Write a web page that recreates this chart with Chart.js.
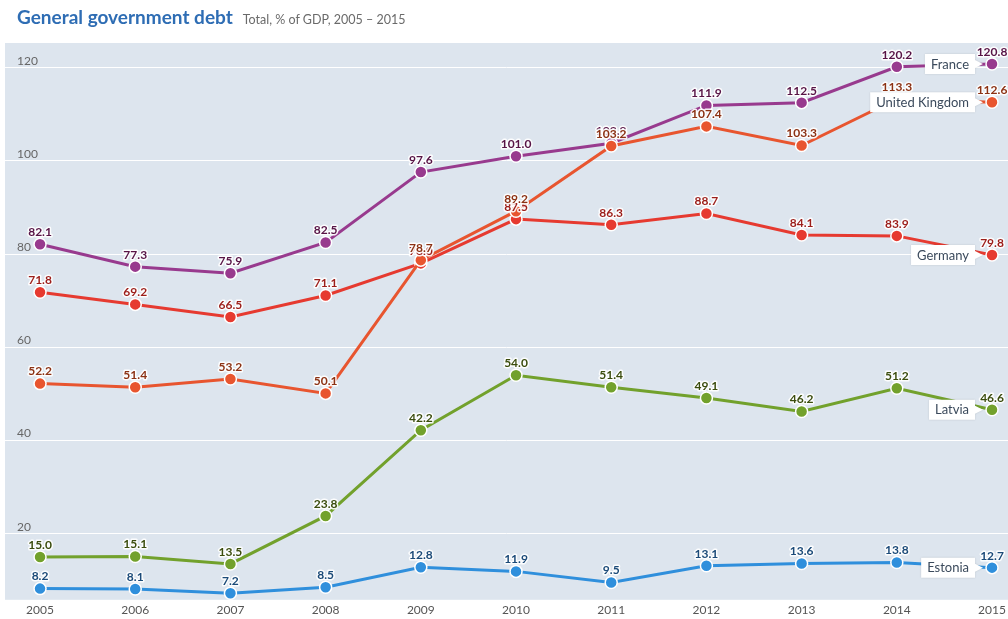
<!DOCTYPE html>
<html>
<head>
<meta charset="utf-8">
<script src="https://cdn.jsdelivr.net/npm/chart.js@4.4.1/dist/chart.umd.min.js"></script>
<style>
  html, body { margin: 0; padding: 0; background: #fff; }
  #wrap { position: relative; width: 1008px; height: 619px; }
  #title { position: absolute; left: 17px; top: 5px; font-family: Lato, sans-serif; white-space: nowrap; }
  #title b { font-size: 19px; color: #2e6db4; }
  #title span { font-size: 12.5px; color: #6a6a6a; margin-left: 10px; }
  canvas { position: absolute; left: 0; top: 0; }
</style>
</head>
<body>
<div id="wrap">
  <canvas id="debtChart" width="1008" height="619"></canvas>
  <div id="title"><b>General government debt</b><span>Total, % of GDP, 2005 – 2015</span></div>
</div>
<script>
const years = [2005, 2006, 2007, 2008, 2009, 2010, 2011, 2012, 2013, 2014, 2015];
const yTicks = [20, 40, 60, 80, 100, 120];

const ukValues      = [52.2, 51.4, 53.2, 50.1, 78.7, 89.2, 103.2, 107.4, 103.3, 113.3, 112.6];
const franceValues  = [82.1, 77.3, 75.9, 82.5, 97.6, 101.0, 103.8, 111.9, 112.5, 120.2, 120.8];
const germanyValues = [71.8, 69.2, 66.5, 71.1, 78.0, 87.5, 86.3, 88.7, 84.1, 83.9, 79.8];
const latviaValues  = [15.0, 15.1, 13.5, 23.8, 42.2, 54.0, 51.4, 49.1, 46.2, 51.2, 46.6];
const estoniaValues = [8.2, 8.1, 7.2, 8.5, 12.8, 11.9, 9.5, 13.1, 13.6, 13.8, 12.7];

// dataset 0 is drawn on top
const series = [
  { name: 'United Kingdom', values: ukValues,      color: '#e8552f', labelColor: '#8c3214' },
  { name: 'France',         values: franceValues,  color: '#983a8e', labelColor: '#571446' },
  { name: 'Germany',        values: germanyValues, color: '#e63a30', labelColor: '#9c1e1a' },
  { name: 'Latvia',         values: latviaValues,  color: '#72a12c', labelColor: '#3b4d0e' },
  { name: 'Estonia',        values: estoniaValues, color: '#2f8fdc', labelColor: '#1b4a78' }
];

const plotBg = {
  id: 'plotBg',
  beforeDraw(chart) {
    const { ctx, chartArea: a } = chart;
    ctx.save();
    ctx.fillStyle = '#dde5ee';
    ctx.fillRect(a.left, a.top, a.right - a.left, a.bottom - a.top);
    ctx.restore();
  }
};

const pointLabels = {
  id: 'pointLabels',
  afterDatasetsDraw(chart) {
    const ctx = chart.ctx;
    ctx.save();
    ctx.font = 'bold 12px Lato, sans-serif';
    ctx.textAlign = 'center';
    ctx.textBaseline = 'middle';
    ctx.lineJoin = 'round';
    for (let i = chart.data.datasets.length - 1; i >= 0; i--) {
      const meta = chart.getDatasetMeta(i);
      const s = series[i];
      meta.data.forEach((pt, j) => {
        const txt = s.values[j].toFixed(1);
        ctx.strokeStyle = 'rgba(255,255,255,0.9)';
        ctx.lineWidth = 3;
        ctx.strokeText(txt, pt.x, pt.y - 12);
        ctx.fillStyle = s.labelColor;
        ctx.fillText(txt, pt.x, pt.y - 12);
      });
    }
    ctx.restore();
  }
};

const endLabels = {
  id: 'endLabels',
  afterDraw(chart) {
    const ctx = chart.ctx;
    ctx.save();
    ctx.font = '13px Lato, sans-serif';
    ctx.textBaseline = 'middle';
    ctx.textAlign = 'center';
    series.forEach((s, i) => {
      const meta = chart.getDatasetMeta(i);
      const pt = meta.data[meta.data.length - 1];
      const w = ctx.measureText(s.name).width + 12;
      const h = 20;
      const right = pt.x - 17;
      const left = right - w;
      const top = pt.y - h / 2;
      ctx.shadowColor = 'rgba(0,0,0,0.15)';
      ctx.shadowBlur = 2;
      ctx.fillStyle = '#fff';
      ctx.beginPath();
      ctx.moveTo(left, top);
      ctx.lineTo(right, top);
      ctx.lineTo(right, pt.y - 4);
      ctx.lineTo(right + 8, pt.y);
      ctx.lineTo(right, pt.y + 4);
      ctx.lineTo(right, top + h);
      ctx.lineTo(left, top + h);
      ctx.closePath();
      ctx.fill();
      ctx.shadowBlur = 0;
      ctx.shadowColor = 'transparent';
      ctx.fillStyle = '#3b4a5c';
      ctx.fillText(s.name, left + w / 2, pt.y + 0.5);
    });
    ctx.restore();
  }
};

new Chart(document.getElementById('debtChart'), {
  type: 'line',
  data: {
    datasets: series.map(s => ({
      label: s.name,
      data: years.map((y, j) => ({ x: y, y: s.values[j] })),
      borderColor: s.color,
      backgroundColor: s.color,
      pointBackgroundColor: s.color,
      pointBorderColor: '#ffffff',
      pointBorderWidth: 1.5,
      pointRadius: 6,
      borderWidth: 3,
      tension: 0,
      clip: false
    }))
  },
  options: {
    responsive: false,
    animation: false,
    layout: { autoPadding: false, padding: { top: 43, left: 5, right: 0, bottom: 0 } },
    plugins: {
      legend: { display: false },
      tooltip: { enabled: false }
    },
    scales: {
      x: {
        type: 'linear',
        min: 2004.632,
        max: 2015.168,
        afterBuildTicks: s => { s.ticks = years.map(v => ({ value: v })); },
        afterFit: s => { s.height = 18; s.paddingLeft = 0; s.paddingRight = 0; },
        grid: { display: false, drawTicks: false },
        border: { display: false },
        ticks: {
          padding: 3,
          maxRotation: 0,
          color: '#555',
          font: { family: 'Lato, sans-serif', size: 12 },
          callback: v => String(v)
        }
      },
      y: {
        min: 5.8,
        max: 125.3,
        afterBuildTicks: s => { s.ticks = yTicks.map(v => ({ value: v })); },
        afterFit: s => { s.width = 0; },
        grid: { color: '#ffffff', lineWidth: 1, drawTicks: false },
        border: { display: false },
        ticks: {
          mirror: true,
          padding: 12,
          labelOffset: -7,
          color: '#666',
          font: { family: 'Lato, sans-serif', size: 12 }
        }
      }
    }
  },
  plugins: [plotBg, pointLabels, endLabels]
});
</script>
</body>
</html>
